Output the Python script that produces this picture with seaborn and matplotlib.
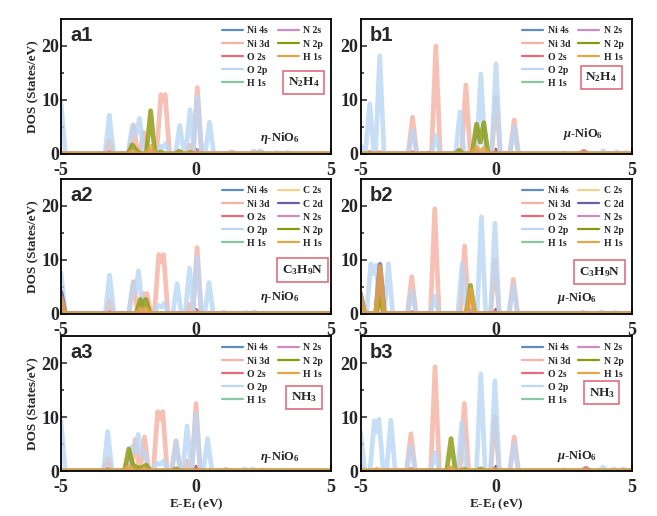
import seaborn as sns
from matplotlib import pyplot as plt
from matplotlib.lines import Line2D

# ---- data: each series is a list of peaks, each peak a list of (E, DOS) tops ----
A1_NI4S = []
A1_NI3D = [[(-3.21, 2.5)], [(-2.32, 5.4)], [(-1.94, 4.0)],
           [(-1.30, 11.0), (-1.22, 9.8), (-1.14, 11.0)], [(-0.22, 1.6)],
           [(0.05, 12.3)], [(1.33, 0.4)], [(2.14, 0.4)], [(2.39, 0.4)]]
A1_O2S = [[(-3.21, 0.3)], [(0.05, 0.6)], [(1.33, 0.2)]]
A1_O2P = [[(-5.0, 9.5)], [(-3.21, 7.2)], [(-2.36, 5.1), (-2.22, 3.6), (-2.09, 6.6)],
          [(-1.32, 1.5), (-1.20, 1.2), (-1.12, 2.0)], [(-0.60, 5.3)], [(-0.22, 8.2)],
          [(0.05, 10.6)], [(0.50, 5.9)], [(1.33, 0.3)], [(2.14, 0.6)], [(2.39, 0.6)],
          [(3.0, 0.3)], [(3.38, 0.3)]]
A1_H1S_G = []
A1_N2S = [[(-1.68, 0.5)]]
A1_N2P = [[(-2.36, 1.7), (-2.20, 0.6)], [(-1.68, 8.0)], [(-1.30, 0.4)],
          [(-0.62, 0.5)], [(-0.20, 0.3)]]
A1_H1S_O = [[(-2.36, 0.5)], [(-1.68, 1.4)]]

B1_NI4S = []
B1_NI3D = [[(-4.29, 0.3)], [(-3.08, 6.8)], [(-2.22, 20.0)], [(-1.11, 12.8)],
           [(0.0, 10.5)], [(0.67, 6.3)], [(3.24, 0.4)]]
B1_O2S = [[(-4.66, 0.3)], [(-3.08, 0.3)], [(0.0, 0.5)], [(3.24, 0.5)]]
B1_O2P = [[(-4.98, 1.5)], [(-4.66, 9.3)], [(-4.29, 18.2)], [(-3.08, 4.4)], [(-2.22, 3.5)],
          [(-1.33, 7.8)], [(-0.56, 14.8)], [(0.0, 16.7)], [(0.67, 5.0)],
          [(3.95, 0.6)], [(4.45, 0.4)], [(4.8, 0.3)]]
B1_H1S_G = []
B1_N2S = [[(-0.72, 0.4)]]
B1_N2P = [[(-1.36, 0.7)], [(-0.72, 5.5), (-0.58, 2.2), (-0.45, 5.8)]]
B1_H1S_O = [[(-0.72, 1.2), (-0.58, 0.5), (-0.45, 1.0)]]

A2_NI4S = []
A2_NI3D = [[(-3.20, 2.4)], [(-2.32, 6.0)], [(-1.94, 3.8), (-1.88, 3.0), (-1.82, 3.8)],
           [(-1.38, 11.0), (-1.29, 9.6), (-1.20, 11.0)], [(-0.24, 1.8)],
           [(0.04, 12.3)], [(1.03, 0.3)]]
A2_O2S = [[(-3.20, 0.3)], [(0.04, 0.6)]]
A2_O2P = [[(-5.0, 7.6)], [(-3.20, 7.2)], [(-2.34, 5.5), (-2.24, 4.0), (-2.13, 8.0)],
          [(-1.40, 1.6), (-1.28, 1.3), (-1.18, 2.0)], [(-0.70, 5.6)], [(-0.24, 8.5)],
          [(0.04, 10.5)], [(0.48, 5.8)], [(1.03, 0.2)], [(1.84, 0.3)], [(2.15, 0.4)]]
A2_H1S_G = []
A2_C2S = [[(-5.0, 2.0)]]
A2_C2D = [[(-5.0, 4.0)]]
A2_N2S = [[(-2.0, 0.4)]]
A2_N2P = [[(-2.06, 2.7), (-1.96, 1.3), (-1.86, 2.7)]]
A2_H1S_O = [[(-5.0, 3.0)], [(-2.06, 1.0), (-1.96, 0.5), (-1.86, 1.0)]]

B2_NI4S = []
B2_NI3D = [[(-3.11, 6.9)], [(-2.26, 19.5)], [(-1.16, 12.6)], [(-0.04, 10.0)],
           [(0.64, 6.4)], [(3.2, 0.3)]]
B2_O2S = [[(-3.11, 0.3)], [(-0.04, 0.5)]]
B2_O2P = [[(-5.0, 3.0)], [(-4.62, 9.3), (-4.52, 7.5), (-4.43, 9.0)], [(-3.97, 9.3)],
          [(-3.11, 4.3)], [(-2.26, 3.3)], [(-1.25, 9.3)], [(-0.54, 18.0)],
          [(-0.04, 16.8)], [(0.64, 5.2)], [(3.9, 0.4)], [(4.4, 0.3)]]
B2_H1S_G = []
B2_C2S = [[(-4.28, 2.0)]]
B2_C2D = [[(-5.0, 3.8)], [(-4.28, 9.2)]]
B2_N2S = [[(-0.94, 0.6)]]
B2_N2P = [[(-5.0, 1.0)], [(-4.28, 2.8)], [(-0.94, 5.3)]]
B2_H1S_O = [[(-5.0, 3.5)], [(-4.28, 8.8)], [(-0.94, 4.5)]]

A3_NI4S = []
A3_NI3D = [[(-3.27, 2.3)], [(-2.25, 5.8)], [(-1.91, 6.3)],
           [(-1.42, 11.0), (-1.32, 9.6), (-1.23, 11.0)], [(-0.74, 5.6)],
           [(-0.33, 1.8)], [(0.0, 12.5)], [(1.1, 0.3)]]
A3_O2S = [[(-3.27, 0.3)], [(0.0, 0.6)]]
A3_O2P = [[(-5.0, 9.2)], [(-3.27, 7.3)],
          [(-2.37, 4.5), (-2.25, 3.5), (-2.14, 6.8), (-2.02, 3.0), (-1.91, 3.6)],
          [(-1.45, 1.5), (-1.32, 1.2), (-1.20, 1.9)], [(-0.74, 5.4)], [(-0.33, 8.3)],
          [(0.0, 10.5)], [(0.43, 6.0)], [(1.1, 0.3)], [(1.8, 0.4)], [(2.1, 0.4)],
          [(2.8, 0.2)], [(3.2, 0.2)]]
A3_H1S_G = []
A3_N2S = [[(-2.49, 0.3)]]
A3_N2P = [[(-2.49, 4.1), (-2.35, 1.3), (-2.20, 0.6), (-2.00, 0.6), (-1.85, 1.1)],
          [(-0.74, 0.4)]]
A3_H1S_O = [[(-2.49, 0.8)], [(-1.91, 0.4)]]

B3_NI4S = []
B3_NI3D = [[(-5.0, 1.0)], [(-3.14, 6.9)], [(-2.25, 19.3)], [(-1.17, 12.5)],
           [(-0.04, 10.0)], [(0.67, 6.3)], [(3.32, 0.4)]]
B3_O2S = [[(-3.14, 0.3)], [(-0.04, 0.5)], [(3.32, 0.5)]]
B3_O2P = [[(-5.0, 7.2)], [(-4.49, 9.3), (-4.41, 7.2), (-4.32, 9.6)], [(-3.88, 9.4)],
          [(-3.14, 4.5)], [(-2.25, 3.4)], [(-1.26, 9.0)], [(-0.56, 18.0)],
          [(-0.04, 16.7)], [(0.67, 5.0)], [(3.95, 0.7)], [(4.35, 0.4)], [(4.7, 0.4)]]
B3_H1S_G = []
B3_N2S = [[(-1.66, 0.4)]]
B3_N2P = [[(-1.66, 6.0)], [(-1.17, 0.3)], [(-0.56, 0.4)]]
B3_H1S_O = [[(-4.4, 0.3)], [(-1.66, 0.6)]]

COLORS = {"Ni 4s": "#5B8DC0", "Ni 3d": "#F6B3A5", "O 2s": "#E66A78",
          "O 2p": "#BAD7F4", "H 1s g": "#86C99C", "C 2s": "#F7D38A",
          "C 2d": "#6B60A8", "N 2s": "#CF8BC4", "N 2p": "#8A9A0E",
          "H 1s o": "#E7A545"}


def series_list(ni4s, ni3d, o2s, o2p, h1g, n2s, n2p, h1o, c2s=None, c2d=None):
    col1 = [("Ni 4s", ni4s), ("Ni 3d", ni3d), ("O 2s", o2s), ("O 2p", o2p), ("H 1s g", h1g)]
    if c2s is None:
        col2 = [("N 2s", n2s), ("N 2p", n2p), ("H 1s o", h1o)]
    else:
        col2 = [("C 2s", c2s), ("C 2d", c2d), ("N 2s", n2s), ("N 2p", n2p), ("H 1s o", h1o)]
    return col1, col2


PANELS = [
    ("a1", r"$\eta$-NiO$_6$", r"N$_2$H$_4$", (0.899, 0.533), (0.81, 0.12),
     series_list(A1_NI4S, A1_NI3D, A1_O2S, A1_O2P, A1_H1S_G, A1_N2S, A1_N2P, A1_H1S_O)),
    ("b1", r"$\mu$-NiO$_6$", r"N$_2$H$_4$", (0.888, 0.57), (0.82, 0.148),
     series_list(B1_NI4S, B1_NI3D, B1_O2S, B1_O2P, B1_H1S_G, B1_N2S, B1_N2P, B1_H1S_O)),
    ("a2", r"$\eta$-NiO$_6$", r"C$_3$H$_9$N", (0.894, 0.326), (0.81, 0.126),
     series_list(A2_NI4S, A2_NI3D, A2_O2S, A2_O2P, A2_H1S_G, A2_N2S, A2_N2P, A2_H1S_O,
                 A2_C2S, A2_C2D)),
    ("b2", r"$\mu$-NiO$_6$", r"C$_3$H$_9$N", (0.882, 0.311), (0.80, 0.118),
     series_list(B2_NI4S, B2_NI3D, B2_O2S, B2_O2P, B2_H1S_G, B2_N2S, B2_N2P, B2_H1S_O,
                 B2_C2S, B2_C2D)),
    ("a3", r"$\eta$-NiO$_6$", r"NH$_3$", (0.901, 0.544), (0.81, 0.103),
     series_list(A3_NI4S, A3_NI3D, A3_O2S, A3_O2P, A3_H1S_G, A3_N2S, A3_N2P, A3_H1S_O)),
    ("b3", r"$\mu$-NiO$_6$", r"NH$_3$", (0.89, 0.58), (0.80, 0.11),
     series_list(B3_NI4S, B3_NI3D, B3_O2S, B3_O2P, B3_H1S_G, B3_N2S, B3_N2P, B3_H1S_O)),
]

sns.set_style("ticks")
plt.rcParams['font.family'] = ['Liberation Serif', 'DejaVu Serif']
plt.rcParams['font.weight'] = 'bold'
plt.rcParams['axes.labelweight'] = 'bold'
plt.rcParams['axes.unicode_minus'] = False
plt.rcParams['mathtext.fontset'] = 'custom'
plt.rcParams['mathtext.rm'] = 'Liberation Serif:bold'
plt.rcParams['mathtext.it'] = 'Liberation Serif:italic:bold'
plt.rcParams['mathtext.bf'] = 'Liberation Serif:bold'


def build_curve(peaks, hw=0.16):
    xs, ys = [-5.4], [0.0]
    for peak in peaks:
        xs.append(peak[0][0] - hw)
        ys.append(0.0)
        for e, d in peak:
            xs.append(e)
            ys.append(d)
        xs.append(peak[-1][0] + hw)
        ys.append(0.0)
    xs.append(5.4)
    ys.append(0.0)
    return xs, ys


fig = plt.figure(figsize=(6.57, 5.16), dpi=100)
lefts = [61 / 657, 360.5 / 657]
widths = [270 / 657, 271 / 657]
bottoms = [1 - 154 / 516, 1 - 314 / 516, 1 - 471 / 516]
height = 135 / 516

for i, (tag, phase, mol, boxpos, phasepos, (col1, col2)) in enumerate(PANELS):
    row, col = divmod(i, 2)
    ax = fig.add_axes([lefts[col], bottoms[row], widths[col], height])
    handles = []
    for name, peaks in col1 + col2:
        xs, ys = build_curve(peaks)
        sns.lineplot(x=xs, y=ys, ax=ax, color=COLORS[name], lw=3.4, alpha=0.82,
                     sort=False, estimator=None, solid_joinstyle='round')
        label = ' '.join(name.split(' ')[:2])
        handles.append(Line2D([], [], color=COLORS[name], lw=1.6, label=label))
    if len(col2) == 3:
        handles = handles + [Line2D([], [], color='none', label=' '),
                             Line2D([], [], color='none', label=' ')]
    ax.legend(handles=handles, ncol=2, loc='upper left', bbox_to_anchor=(0.595, 0.945),
              frameon=False, fontsize=7.0, handlelength=2.2, handletextpad=0.45,
              columnspacing=0.8, labelspacing=0.42, borderpad=0, borderaxespad=0)
    ax.set_xlim(-5, 5)
    ax.set_ylim(0, 25)
    ax.set_xticks([-5, 0, 5])
    ax.set_xticks([-2.5, 2.5], minor=True)
    ax.set_yticks([0, 10, 20])
    ax.set_yticks([5, 15], minor=True)
    ax.tick_params(which='both', direction='in', labelsize=13, width=1.1)
    ax.tick_params(axis='x', which='both', pad=6)
    ax.tick_params(axis='y', which='both', pad=1.5)
    ax.tick_params(which='major', length=4)
    ax.tick_params(which='minor', length=2.5)
    for sp in ax.spines.values():
        sp.set_linewidth(1.3)
        sp.set_color('black')
    ax.text(0.035, 0.95, tag, transform=ax.transAxes, ha='left', va='top',
            fontsize=14.5, fontweight='bold', family='Liberation Sans')
    ax.text(phasepos[0], phasepos[1], phase, transform=ax.transAxes, ha='center',
            va='center', fontsize=9)
    ax.text(boxpos[0], boxpos[1], mol, transform=ax.transAxes, ha='center', va='center',
            fontsize=9.5, bbox=dict(boxstyle='square,pad=0.35', fc='white',
                                    ec='#E26E7D', lw=1.2))
    if col == 0:
        ax.set_ylabel('DOS (States/eV)', fontsize=9.5, labelpad=1.5)
    else:
        ax.set_ylabel('')
    if row == 2:
        ax.set_xlabel(r'E-E$_\mathrm{f}$ (eV)', fontsize=9.5, labelpad=0.5)
    else:
        ax.set_xlabel('')

fig.savefig('out.png', dpi=100)
